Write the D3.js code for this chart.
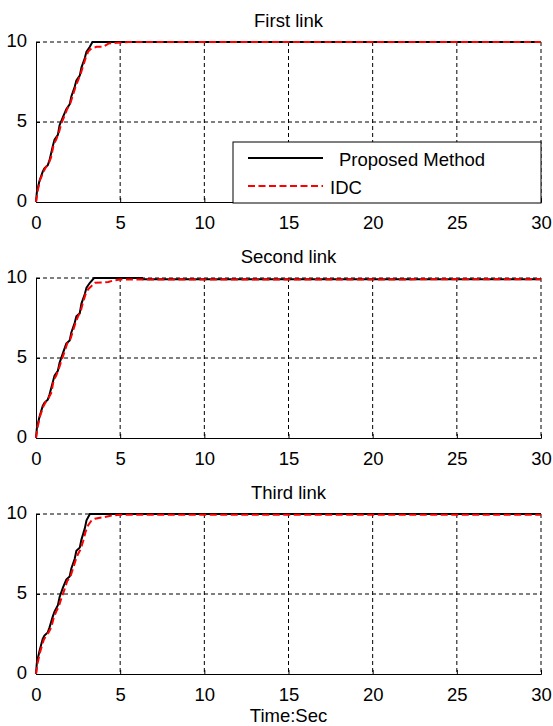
<!DOCTYPE html>
<html>
<head>
<meta charset="utf-8">
<script src="https://cdn.jsdelivr.net/npm/d3@7"></script>
<style>
  body { margin: 0; background: #fff; }
  text { font-family: "Liberation Sans", Arial, sans-serif; }
</style>
</head>
<body>
<div id="chart"></div>
<script>
// link titles
var titles = ["First link", "Second link", "Third link"];
var xTicks = [0, 5, 10, 15, 20, 25, 30];
var yTicks = [0, 5, 10];

// first link
var t1Prop = [0, 0.05, 0.2, 0.4, 0.5, 0.7, 0.8, 1.0, 1.1, 1.3, 1.4, 1.6, 1.8, 2.0, 2.1, 2.3, 2.4, 2.6, 2.7, 2.9, 3.0, 3.2, 3.35, 4.0, 30];
var y1Prop = [0, 0.6, 1.3, 1.9, 2.1, 2.3, 2.6, 3.5, 3.9, 4.2, 4.8, 5.3, 5.8, 6.1, 6.6, 7.2, 7.6, 7.9, 8.4, 9.0, 9.4, 9.7, 10, 10, 10];
var t1Idc = [0, 0.1, 0.25, 0.45, 0.6, 0.75, 0.9, 1.05, 1.2, 1.35, 1.5, 1.7, 1.85, 2.05, 2.2, 2.35, 2.5, 2.65, 2.8, 2.95, 3.1, 3.3, 3.6, 4.0, 4.3, 4.8, 5.5, 30];
var y1Idc = [0, 0.7, 1.4, 1.9, 2.2, 2.4, 2.8, 3.6, 3.9, 4.3, 4.9, 5.4, 5.8, 6.2, 6.7, 7.2, 7.6, 8.0, 8.5, 9.0, 9.4, 9.6, 9.7, 9.7, 9.9, 9.95, 10, 10];

// second link
var t2Prop = [0, 0.05, 0.2, 0.4, 0.5, 0.7, 0.8, 1.0, 1.1, 1.3, 1.4, 1.6, 1.8, 2.0, 2.1, 2.3, 2.4, 2.6, 2.7, 2.9, 3.0, 3.2, 3.45, 6.3, 6.35, 30];
var y2Prop = [0, 0.6, 1.3, 2.0, 2.2, 2.4, 2.7, 3.5, 3.9, 4.2, 4.7, 5.3, 5.9, 6.1, 6.6, 7.2, 7.6, 7.8, 8.4, 9.0, 9.4, 9.7, 10, 10, 9.92, 9.92];
var t2Idc = [0, 0.1, 0.25, 0.45, 0.6, 0.75, 0.9, 1.05, 1.2, 1.35, 1.5, 1.7, 1.85, 2.05, 2.2, 2.35, 2.5, 2.65, 2.8, 2.95, 3.1, 3.3, 3.5, 4.3, 4.6, 5.0, 30];
var y2Idc = [0, 0.7, 1.4, 2.0, 2.3, 2.5, 2.8, 3.6, 3.9, 4.3, 4.8, 5.4, 5.9, 6.2, 6.7, 7.2, 7.6, 7.9, 8.5, 9.0, 9.3, 9.5, 9.7, 9.75, 9.85, 9.9, 9.92];

// third link
var t3Prop = [0, 0.05, 0.2, 0.4, 0.5, 0.7, 0.8, 1.0, 1.1, 1.3, 1.4, 1.6, 1.8, 2.0, 2.1, 2.3, 2.4, 2.6, 2.7, 2.9, 3.0, 3.2, 4.0, 30];
var y3Prop = [0, 0.7, 1.4, 2.2, 2.4, 2.6, 2.9, 3.6, 3.9, 4.3, 4.8, 5.4, 5.9, 6.1, 6.6, 7.2, 7.7, 7.9, 8.4, 9.1, 9.6, 10, 10, 10];
var t3Idc = [0, 0.1, 0.25, 0.45, 0.6, 0.75, 0.9, 1.05, 1.2, 1.35, 1.5, 1.7, 1.85, 2.05, 2.2, 2.35, 2.5, 2.65, 2.8, 2.95, 3.1, 3.3, 3.5, 4.0, 4.5, 5.0, 30];
var y3Idc = [0, 0.7, 1.4, 2.1, 2.4, 2.6, 2.9, 3.5, 3.9, 4.2, 4.7, 5.3, 5.8, 6.1, 6.6, 7.1, 7.5, 7.8, 8.3, 8.9, 9.3, 9.6, 9.7, 9.8, 9.9, 9.95, 9.95];

var links = [
	{prop: [t1Prop, y1Prop], idc: [t1Idc, y1Idc]},
	{prop: [t2Prop, y2Prop], idc: [t2Idc, y2Idc]},
	{prop: [t3Prop, y3Prop], idc: [t3Idc, y3Idc]}
];

var width = 553, height = 726;
var margin = {left: 36, right: 12};
var panelTops = [42, 278, 514];
var panelH = 160;
var fs = 18.5;

var svg = d3.select("#chart").append("svg")
	.attr("width", width)
	.attr("height", height);

var x = d3.scaleLinear().domain([0, 30]).range([margin.left, width - margin.right]);

function toPoints(arr){
	return arr[0].map(function(t, i){ return [t, arr[1][i]]; });
}

links.forEach(function(link, k){
	var top = panelTops[k];
	var y = d3.scaleLinear().domain([0, 10]).range([top + panelH, top]);
	var g = svg.append("g");

	// grid
	g.selectAll(".vgrid").data(xTicks.slice(1)).enter().append("line")
		.attr("x1", function(d){ return x(d); })
		.attr("x2", function(d){ return x(d); })
		.attr("y1", top).attr("y2", top + panelH)
		.attr("stroke", "#000").attr("stroke-width", 1)
		.attr("stroke-dasharray", "4,3");
	g.selectAll(".hgrid").data(yTicks.slice(1)).enter().append("line")
		.attr("x1", x(0)).attr("x2", x(30))
		.attr("y1", function(d){ return y(d); })
		.attr("y2", function(d){ return y(d); })
		.attr("stroke", "#000").attr("stroke-width", 1)
		.attr("stroke-dasharray", "4,3");

	// axes
	var xa = g.append("g")
		.attr("transform", "translate(0," + (top + panelH) + ")")
		.call(d3.axisBottom(x).tickValues(xTicks).tickSize(-4).tickPadding(14));
	var ya = g.append("g")
		.attr("transform", "translate(" + margin.left + ",0)")
		.call(d3.axisLeft(y).tickValues(yTicks).tickSize(-4).tickPadding(9));
	[xa, ya].forEach(function(a){
		a.select(".domain").attr("stroke", "#000").attr("stroke-width", 1);
		a.selectAll(".tick line").attr("stroke", "#000");
		a.selectAll("text").attr("font-size", fs).attr("fill", "#000")
			.attr("font-family", "'Liberation Sans', Arial, sans-serif");
	});
	ya.selectAll("text").attr("dy", "0.25em");

	var line = d3.line()
		.x(function(d){ return x(d[0]); })
		.y(function(d){ return y(d[1]); });

	g.append("path").datum(toPoints(link.prop))
		.attr("d", line).attr("fill", "none")
		.attr("stroke", "#000").attr("stroke-width", 2);
	g.append("path").datum(toPoints(link.idc))
		.attr("d", line).attr("fill", "none")
		.attr("stroke", "#ff0000").attr("stroke-width", 2)
		.attr("stroke-dasharray", "7,3.5");

	g.append("text")
		.attr("x", (x(0) + x(30)) / 2)
		.attr("y", top - 15)
		.attr("text-anchor", "middle")
		.attr("font-size", fs)
		.text(titles[k]);
});

// legend in first panel
var lg = svg.append("g");
lg.append("rect")
	.attr("x", 233).attr("y", 142).attr("width", x(30) - 233).attr("height", 61)
	.attr("fill", "#fff").attr("stroke", "#000").attr("stroke-width", 1);
lg.append("line").attr("x1", 248).attr("x2", 323).attr("y1", 158).attr("y2", 158)
	.attr("stroke", "#000").attr("stroke-width", 2);
lg.append("text").attr("x", 339).attr("y", 166).attr("font-size", fs).text("Proposed Method");
lg.append("line").attr("x1", 248).attr("x2", 323).attr("y1", 186).attr("y2", 186)
	.attr("stroke", "#ff0000").attr("stroke-width", 2).attr("stroke-dasharray", "7,3.5");
lg.append("text").attr("x", 330).attr("y", 194).attr("font-size", fs).text("IDC");

svg.append("text")
	.attr("x", (x(0) + x(30)) / 2)
	.attr("y", 722)
	.attr("text-anchor", "middle")
	.attr("font-size", fs)
	.text("Time:Sec");
</script>
</body>
</html>
